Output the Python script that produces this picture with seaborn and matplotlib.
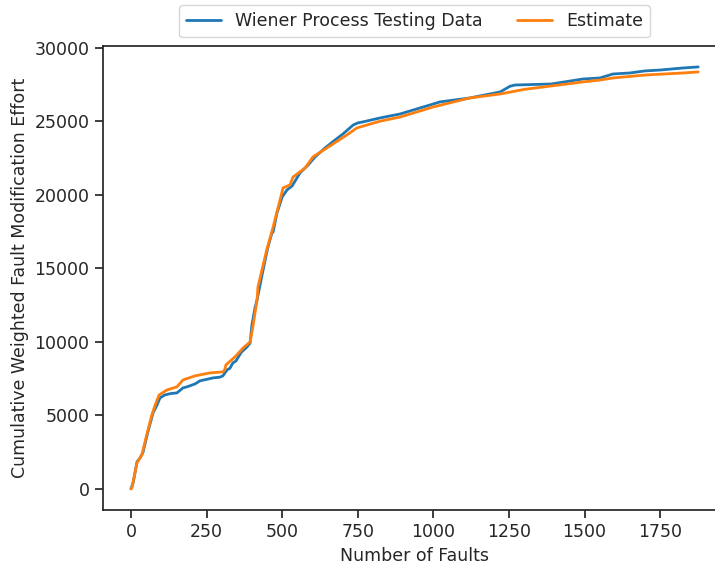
import matplotlib
matplotlib.use("Agg")
import matplotlib.pyplot as plt
import seaborn as sns

# Wiener process testing data
data_x = [0, 7, 20, 30, 40, 55, 73, 86, 96, 112, 130, 152, 172, 185, 212, 228, 250, 271,
          294, 304, 318, 327, 337, 347, 365, 384, 394, 400, 410, 417, 427, 433, 445, 453,
          466, 470, 483, 500, 516, 533, 559, 586, 609, 642, 675, 701, 735, 750, 767, 824,
          890, 956, 1000, 1022, 1121, 1221, 1254, 1270, 1390, 1495, 1551, 1594, 1650,
          1700, 1750, 1826, 1876]
data_y = [0, 400, 1840, 2100, 2500, 3800, 5170, 5700, 6190, 6390, 6480, 6530, 6870, 6940,
          7140, 7350, 7450, 7550, 7600, 7690, 8100, 8200, 8570, 8700, 9300, 9660, 9930,
          11150, 12300, 12860, 13880, 14500, 15700, 16460, 17400, 17480, 18780, 19860,
          20340, 20610, 21500, 22040, 22590, 23200, 23740, 24150, 24760, 24900, 24970,
          25240, 25510, 25920, 26190, 26330, 26600, 27010, 27400, 27480, 27550, 27890,
          27960, 28230, 28300, 28440, 28500, 28640, 28710]

# Estimate
est_x = [0, 3, 20, 36, 50, 69, 80, 93, 119, 152, 172, 212, 261, 304, 310, 314, 344, 371,
         394, 403, 417, 420, 449, 470, 503, 526, 536, 576, 602, 648, 714, 747, 824, 890,
         1000, 1121, 1221, 1300, 1495, 1551, 1594, 1700, 1826, 1876]
est_y = [0, 70, 1770, 2310, 3500, 5030, 5700, 6390, 6730, 6940, 7410, 7690, 7890, 7960,
         8100, 8440, 8980, 9590, 10000, 11020, 12860, 13740, 16260, 17800, 20480, 20680,
         21220, 21840, 22590, 23200, 24080, 24560, 25020, 25300, 25990, 26600, 26870,
         27180, 27690, 27820, 27960, 28160, 28300, 28370]

sns.set_theme(style="ticks", palette="tab10")
plt.rcParams["font.family"] = ["DejaVu Sans"]
plt.rcParams["xtick.labelsize"] = 12.5
plt.rcParams["ytick.labelsize"] = 12.5
plt.rcParams["axes.labelsize"] = 12.5
plt.rcParams["legend.fontsize"] = 12.5

fig = plt.figure(figsize=(7.15, 5.66), dpi=100)
ax = fig.add_axes([0.1435, 0.099, 0.8727, 0.82])

sns.lineplot(x=data_x, y=data_y, ax=ax, label="Wiener Process Testing Data", linewidth=2)
sns.lineplot(x=est_x, y=est_y, ax=ax, label="Estimate", linewidth=2)

ax.set_xlabel("Number of Faults")
ax.set_ylabel("Cumulative Weighted Fault Modification Effort")
ax.set_xticks([0, 250, 500, 750, 1000, 1250, 1500, 1750])
ax.legend(loc="lower center", bbox_to_anchor=(0.5, 1.0), ncol=2, frameon=True)

fig.savefig("out.png", dpi=100)
